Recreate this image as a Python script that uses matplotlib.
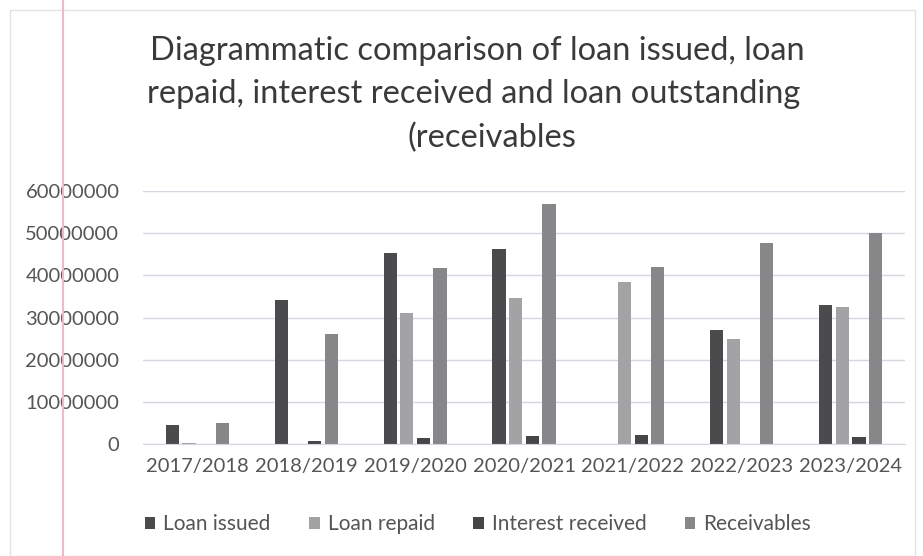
import numpy as np
import matplotlib.pyplot as plt
from matplotlib.lines import Line2D
from matplotlib.patches import Rectangle

# ---- Data ----
years = ['2017/2018', '2018/2019', '2019/2020', '2020/2021',
         '2021/2022', '2022/2023', '2023/2024']
loan_issued = [4500000, 34100000, 45300000, 46200000, 0, 27000000, 32900000]
loan_repaid = [300000, 0, 31100000, 34600000, 38400000, 24800000, 32500000]
interest_received = [0, 600000, 1500000, 1800000, 2100000, 0, 1700000]
receivables = [4900000, 26200000, 41800000, 56800000, 41900000, 47600000, 50100000]

series = [
    ('Loan issued', loan_issued, '#4b4b4d'),
    ('Loan repaid', loan_repaid, '#a3a3a5'),
    ('Interest received', interest_received, '#464648'),
    ('Receivables', receivables, '#87878a'),
]
title_lines = ['Diagrammatic comparison of loan issued, loan',
               'repaid, interest received and loan outstanding',
               '(receivables']

plt.rcParams['font.family'] = ['Lato', 'DejaVu Sans']

W, H = 923, 556
fig = plt.figure(figsize=(W / 100, H / 100), dpi=100)
ax = fig.add_axes([143 / W, 1 - 444 / H, 762 / W, 253 / H])

x = np.arange(len(years))
step = 0.153
width = 0.122
for i, (name, vals, col) in enumerate(series):
    ax.bar(x + (i - 1.5) * step, vals, width=width, color=col, label=name)

ax.set_xlim(-0.5, len(years) - 0.5)
ax.set_ylim(0, 60000000)
ax.set_yticks(np.arange(0, 60000001, 10000000))
ax.set_yticklabels([str(v) for v in range(0, 60000001, 10000000)])
ax.set_xticks(x)
ax.set_xticklabels(years)
ax.tick_params(axis='both', length=0, labelsize=14.5, colors='#555555')
ax.tick_params(axis='x', pad=10)
ax.tick_params(axis='y', pad=17)
ax.grid(axis='y', color='#d6d6e0', linewidth=1)
ax.set_axisbelow(True)
for s in ['top', 'right', 'left']:
    ax.spines[s].set_visible(False)
ax.spines['bottom'].set_color('#d6d6e0')

for line, xc, yc in zip(title_lines, [477, 474, 492], [51, 94, 138]):
    fig.text(xc / W, 1 - yc / H, line, ha='center', va='center',
             fontsize=23.5, color='#3a3a3a')

ax.legend(loc='center', bbox_to_anchor=(478 / W, 1 - 524 / H), bbox_transform=fig.transFigure,
          ncol=4, frameon=False, fontsize=15, handlelength=0.5, handleheight=0.5,
          handletextpad=0.38, columnspacing=1.85, labelcolor='#555555')

# scan artefacts: faint border and pink margin line
fig.add_artist(Rectangle((10 / W, 0.0), 905 / W, 1 - 10 / H, transform=fig.transFigure,
                         fill=False, edgecolor='#e2e2ea', linewidth=1))
fig.add_artist(Line2D([63 / W, 63 / W], [0, 1], transform=fig.transFigure,
                      color='#f2b8c8', linewidth=1.5))

fig.savefig('out.png', dpi=100)
